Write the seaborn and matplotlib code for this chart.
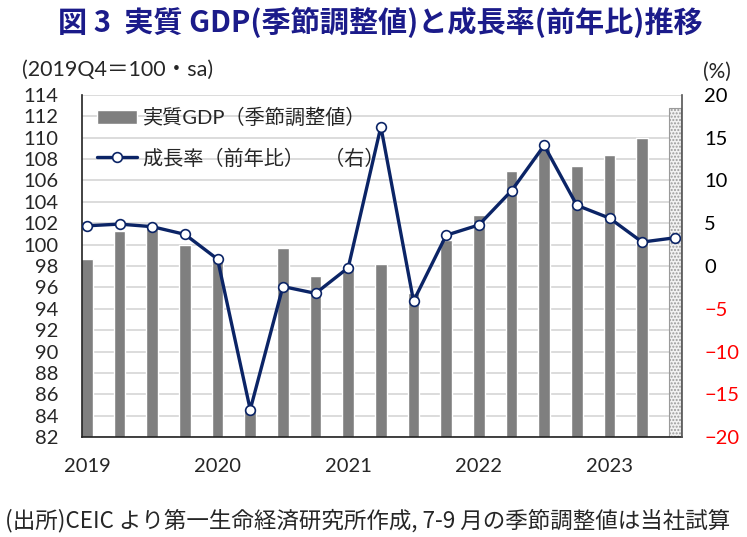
import numpy as np
import pandas as pd
import matplotlib
matplotlib.use("Agg")
import matplotlib.pyplot as plt
import seaborn as sns
from matplotlib.patches import Patch
from matplotlib.lines import Line2D

# data
quarters = ['2019Q1', '2019Q2', '2019Q3', '2019Q4',
            '2020Q1', '2020Q2', '2020Q3', '2020Q4',
            '2021Q1', '2021Q2', '2021Q3', '2021Q4',
            '2022Q1', '2022Q2', '2022Q3', '2022Q4',
            '2023Q1', '2023Q2', '2023Q3']
gdp_index = [98.7, 101.3, 101.6, 100.0, 98.7, 84.5, 99.7, 97.1, 98.1, 98.2,
             95.5, 100.4, 102.8, 106.9, 109.0, 107.4, 108.4, 110.0, 112.8]
gdp_kind = ['実績'] * 18 + ['試算']
growth_yoy = [4.7, 4.9, 4.6, 3.7, 0.8, -16.8, -2.4, -3.2, -0.2, 16.3,
              -4.1, 3.6, 4.8, 8.8, 14.1, 7.1, 5.6, 2.8, 3.3]
year_labels = ['2019', '2020', '2021', '2022', '2023']
year_pos = [0, 4, 8, 12, 16]

df = pd.DataFrame({'quarter': quarters, 'gdp': gdp_index, 'kind': gdp_kind})

sns.set_style('white')
plt.rcParams['font.family'] = ['Lato', 'Noto Sans CJK JP', 'DejaVu Sans']

navy = '#0B2466'
bar_gray = '#7F7F7F'

fig = plt.figure(figsize=(7.47, 5.37), dpi=100)
ax = fig.add_axes([0.1098, 0.1862, 0.8032, 0.6369])

sns.barplot(data=df, x='quarter', y='gdp', hue='kind', dodge=False,
            palette={'実績': bar_gray, '試算': '#F2F2F2'}, width=0.36,
            saturation=1, legend=False, ax=ax)

# estimated quarter gets a dotted pattern
for p in ax.patches:
    if abs(p.get_x() + p.get_width() / 2 - 18) < 0.01:
        p.set_hatch('.....')
        p.set_edgecolor('#9A9A9A')
        p.set_linewidth(0.8)

ax.set_ylim(82, 114)
ax.set_yticks(range(82, 115, 2))
ax.yaxis.grid(True, color='#D9D9D9', lw=1.3)
ax.xaxis.grid(False)
ax.set_axisbelow(True)
ax.set_xlabel('')
ax.set_ylabel('')
ax.set_xticks(year_pos)
ax.set_xticklabels(year_labels)
ax.tick_params(axis='y', length=0, pad=17, labelsize=14.5)
ax.tick_params(axis='x', length=0, pad=15, labelsize=14.5)
for s in ['top', 'right']:
    ax.spines[s].set_visible(False)
ax.spines['left'].set_color('#222222')
ax.spines['bottom'].set_color('#222222')
ax.spines['left'].set_linewidth(1.2)
ax.spines['bottom'].set_linewidth(1.2)

# growth rate on the right axis
ax2 = ax.twinx()
sns.lineplot(x=np.arange(len(growth_yoy)), y=growth_yoy, ax=ax2, color=navy,
             lw=2.4, marker='o', ms=7, mfc='white', mec=navy, mew=1.2)
ax2.set_ylim(-20, 20)
ax2.set_yticks(range(-20, 21, 5))
ax2.set_ylabel('')
ax2.tick_params(axis='y', length=0, pad=16, labelsize=14.5)
for lab, v in zip(ax2.get_yticklabels(), range(-20, 21, 5)):
    lab.set_color('#FF0000' if v < 0 else 'black')
for s in ['top', 'left', 'bottom']:
    ax2.spines[s].set_visible(False)
ax2.spines['right'].set_color('#555555')
ax2.spines['right'].set_linewidth(1.2)
ax.set_xlim(-0.15, 18.22)

handles = [Patch(facecolor=bar_gray),
           Line2D([], [], color=navy, lw=2.4, marker='o', ms=7,
                  mfc='white', mec=navy, mew=1.2)]
labels = ['実質GDP（季節調整値）', '成長率（前年比）\u3000（右）']
ax2.legend(handles, labels, loc='upper left', bbox_to_anchor=(0.018, 0.975),
           frameon=False, fontsize=14.5, handlelength=2.0, handletextpad=0.3,
           labelspacing=1.05, borderaxespad=0, borderpad=0.2)

fig.text(0.509, 0.959, '図 3  実質 GDP(季節調整値)と成長率(前年比)推移',
         ha='center', va='center', fontsize=21, fontweight='bold',
         color='#1B1B8A', family=['Noto Sans CJK JP', 'DejaVu Sans'])
fig.text(22 / 747, 1 - 70 / 537, '(2019Q4＝100・sa)', ha='left', va='center',
         fontsize=15.5)
fig.text(703 / 747, 1 - 72 / 537, '(%)', ha='left', va='center', fontsize=15)
fig.text(5 / 747, 1 - 521 / 537,
         '(出所)CEIC より第一生命経済研究所作成, 7-9 月の季節調整値は当社試算',
         ha='left', va='center', fontsize=16.2,
         family=['Noto Sans CJK JP', 'DejaVu Sans'])

plt.savefig('out.png', dpi=100)
